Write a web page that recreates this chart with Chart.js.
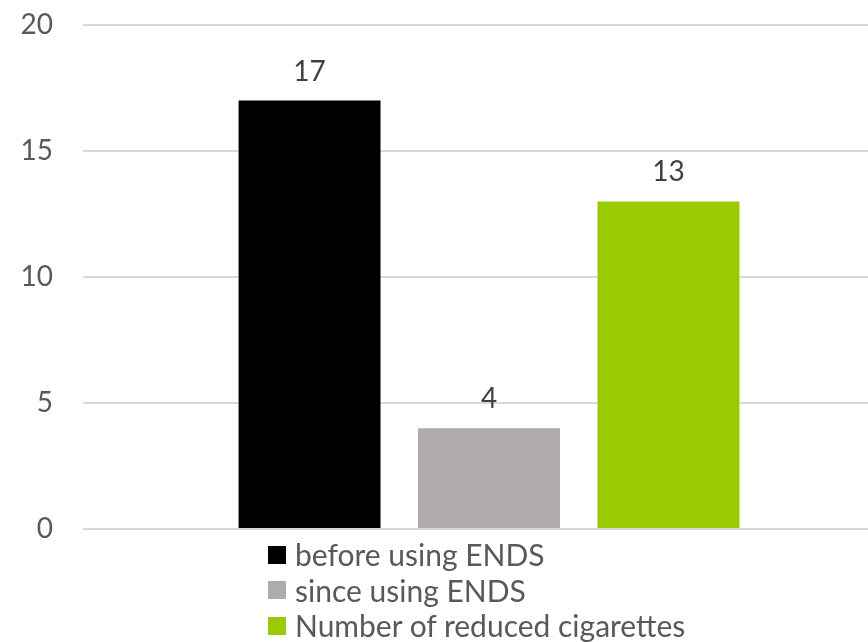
<!DOCTYPE html>
<html>
<head>
<meta charset="utf-8">
<script src="https://cdn.jsdelivr.net/npm/chart.js@4.4.0/dist/chart.umd.min.js"></script>
<style>
html,body{margin:0;padding:0;background:#fff;overflow:hidden;width:868px;height:642px;}
#wrap{position:relative;width:868px;height:642px;overflow:hidden;}
canvas{position:absolute;left:0;top:0;}
#legend{position:absolute;left:268px;top:537px;font-family:Lato,"Open Sans",sans-serif;font-size:30px;color:#595959;line-height:35.5px;}
#legend .item{display:flex;align-items:center;white-space:nowrap;}
#legend .box{width:18px;height:18px;margin-right:9px;display:inline-block;}
</style>
</head>
<body>
<div id="wrap">
<canvas id="c" width="895" height="642"></canvas>
<div id="legend"></div>
</div>
<script>
const categories = [""];
const seriesNames = ["before using ENDS", "since using ENDS", "Number of reduced cigarettes"];
const seriesValues = [[17], [4], [13]];
const seriesColors = ["#000000", "#AFABAB", "#99CC00"];
const yTicks = [0, 5, 10, 15, 20];

const FONT = 'Lato, "Open Sans", sans-serif';

const valueLabels = {
  id: 'valueLabels',
  afterDatasetsDraw(chart) {
    const ctx = chart.ctx;
    ctx.save();
    ctx.font = '28px ' + FONT;
    ctx.fillStyle = '#404040';
    ctx.textAlign = 'center';
    ctx.textBaseline = 'alphabetic';
    chart.data.datasets.forEach((ds, i) => {
      const meta = chart.getDatasetMeta(i);
      meta.data.forEach((bar, j) => {
        ctx.fillText(String(ds.data[j]), bar.x, bar.y - 20);
      });
    });
    ctx.restore();
  }
};

const chart = new Chart(document.getElementById('c'), {
  type: 'bar',
  data: {
    labels: categories,
    datasets: seriesNames.map((n, i) => ({
      label: n,
      data: seriesValues[i],
      backgroundColor: seriesColors[i],
      borderWidth: 0,
      categoryPercentage: 0.663,
      barPercentage: 0.791
    }))
  },
  options: {
    responsive: false,
    animation: false,
    layout: { padding: { top: 25, bottom: 113, left: 0, right: 0 } },
    plugins: { legend: { display: false }, tooltip: { enabled: false } },
    scales: {
      x: { display: false },
      y: {
        min: 0, max: 20,
        afterBuildTicks(scale) { scale.ticks = yTicks.map(v => ({ value: v })); },
        afterFit(scale) { scale.width = 83; scale.paddingTop = 0; scale.paddingBottom = 0; },
        grid: { color: '#D9D9D9', lineWidth: 2, drawTicks: false },
        border: { display: false },
        ticks: { color: '#595959', font: { family: FONT, size: 28 }, padding: 30 }
      }
    }
  },
  plugins: [valueLabels]
});

const leg = document.getElementById('legend');
seriesNames.forEach((n, i) => {
  const d = document.createElement('div');
  d.className = 'item';
  const b = document.createElement('span');
  b.className = 'box';
  b.style.background = seriesColors[i];
  const t = document.createElement('span');
  t.textContent = n;
  d.appendChild(b); d.appendChild(t);
  leg.appendChild(d);
});
</script>
</body>
</html>
